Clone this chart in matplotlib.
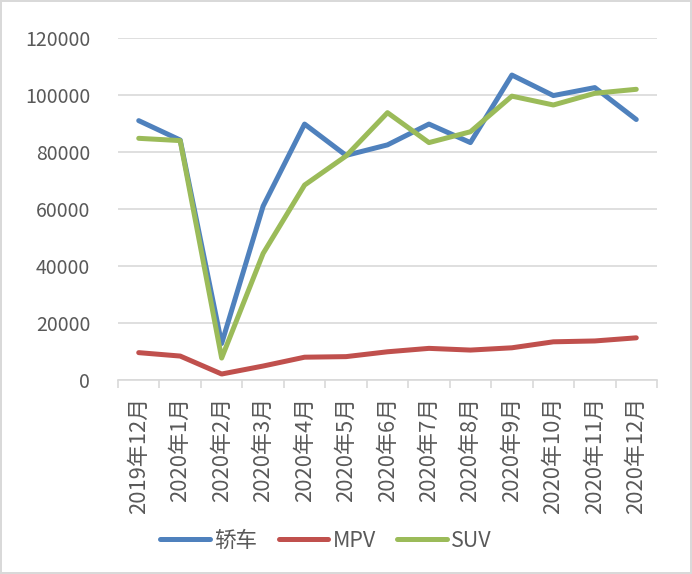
import matplotlib.pyplot as plt
import numpy as np

plt.rcParams['font.family'] = ['Noto Sans CJK SC', 'DejaVu Sans']

months = ['2019年12月', '2020年1月', '2020年2月', '2020年3月', '2020年4月',
          '2020年5月', '2020年6月', '2020年7月', '2020年8月', '2020年9月',
          '2020年10月', '2020年11月', '2020年12月']

sedan = [91000, 84200, 12800, 61000, 89800, 78800, 82500, 89800, 83300, 107000, 99800, 102600, 91400]
mpv = [9600, 8400, 2100, 4900, 8000, 8200, 9900, 11100, 10500, 11300, 13400, 13700, 14800]
suv = [84800, 84000, 7700, 44400, 68400, 78600, 93800, 83300, 87100, 99600, 96500, 100600, 102000]

grey = '#595959'
gridc = '#d9d9d9'

fig = plt.figure(figsize=(6.92, 5.74), dpi=100)
fig.patch.set_edgecolor(gridc)
fig.patch.set_linewidth(1.5)
ax = fig.add_axes([118/692, 1 - 380/574, (657-118)/692, (380-38)/574])

x = np.arange(len(months))
ax.plot(x, sedan, color='#4F81BD', lw=3.6, label='轿车', solid_capstyle='round', solid_joinstyle='round')
ax.plot(x, mpv, color='#C0504D', lw=3.6, label='MPV', solid_capstyle='round', solid_joinstyle='round')
ax.plot(x, suv, color='#9BBB59', lw=3.6, label='SUV', solid_capstyle='round', solid_joinstyle='round')

ax.set_xlim(-0.5, len(months) - 0.5)
ax.set_ylim(0, 120000)
ax.set_yticks(range(0, 120001, 20000))
ax.grid(axis='y', color=gridc, lw=1.2)
ax.set_axisbelow(True)
for s in ['top', 'right', 'left']:
    ax.spines[s].set_visible(False)
ax.spines['bottom'].set_color(gridc)
ax.spines['bottom'].set_linewidth(1.2)

ax.set_xticks(x)
ax.set_xticklabels(months, rotation=90, fontsize=15.8, color=grey)
ax.set_xticks(np.arange(-0.5, len(months)), minor=True)
ax.tick_params(axis='x', which='major', length=0, pad=12)
ax.tick_params(axis='x', which='minor', length=6, color=gridc, width=1.2)
ax.tick_params(axis='y', length=0, labelsize=14, labelcolor=grey, pad=20)

fig.legend(loc='center', bbox_to_anchor=(326/692, 1 - 541/574), ncol=3, frameon=False,
           fontsize=15.5, labelcolor=grey, handlelength=2.3, columnspacing=1.0, handletextpad=0.2)

fig.savefig('out.png', dpi=100)
